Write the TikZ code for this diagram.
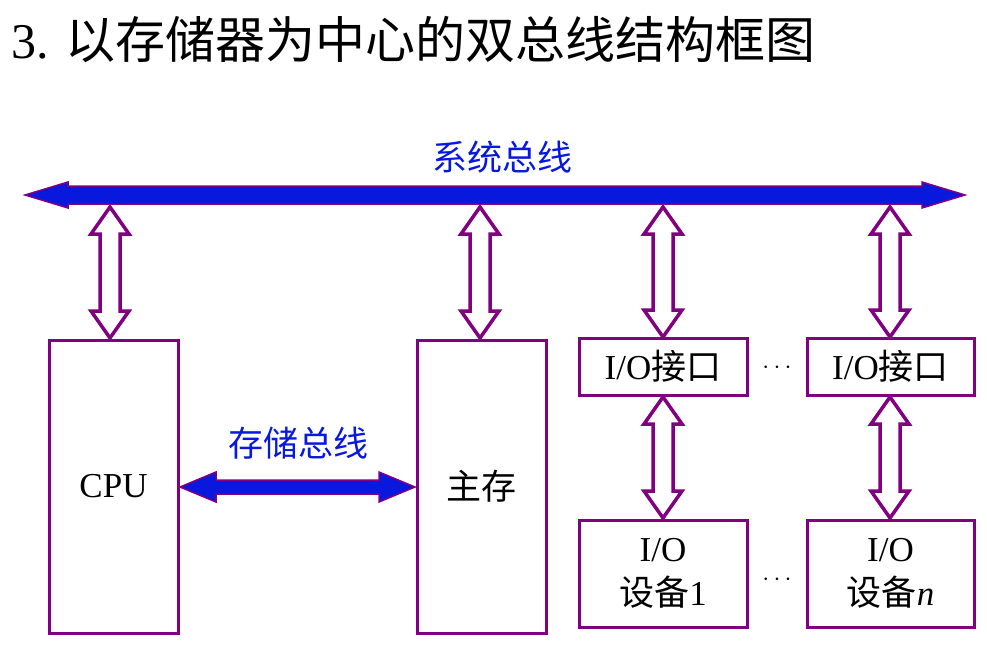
\documentclass[tikz,border=0pt]{standalone}
\usepackage{fontspec}
\setmainfont{Liberation Serif}
\newfontfamily\cjk{Noto Sans CJK SC}
\usetikzlibrary{positioning}
\definecolor{busblue}{RGB}{8,24,220}
\definecolor{edgepurple}{RGB}{128,0,128}
\newcommand{\fs}[2]{\fontsize{#1}{#2}\selectfont}
% double arrow, vertical: x, top, bottom
\newcommand{\vdarrow}[3]{\draw[updown] (#1,#2) -- ++(19,27) -- ++(-9,0) -- (#1+10,#3-27) -- ++(9,0) -- (#1,#3) -- ++(-19,-27) -- ++(9,0) -- (#1-10,#2+27) -- ++(-9,0) -- cycle;}
% double arrow, horizontal: y, left, right, head half, shaft half, head length
\newcommand{\hdarrow}[6]{\draw[bus] (#2,#1) -- ++(#6,-#4) -- ++(0,#4-#5) -- (#3-#6,#1-#5) -- ++(0,#5-#4) -- (#3,#1) -- ++(-#6,#4) -- ++(0,#5-#4) -- (#2+#6,#1+#5) -- ++(0,#4-#5) -- cycle;}
\begin{document}
\begin{tikzpicture}[x=1pt,y=-1pt,
  box/.style={draw=edgepurple,line width=3pt,fill=white,align=center,font=\fs{35}{44}},
  bus/.style={draw=edgepurple,line width=1.5pt,fill=busblue},
  updown/.style={draw=edgepurple,line width=3.5pt,fill=white,line join=miter},
  blabel/.style={text=busblue,font=\cjk\fs{35}{40}}]
\useasboundingbox (0,0) rectangle (987,645);

%Titre
\node[anchor=west,font=\fs{50}{56}] (titre) at (8,40) {3. {\cjk 以存储器为中心的双总线结构框图}};

%Bus systeme
\hdarrow{195}{25}{965}{13}{9}{43}
\node[blabel] (nomsys) at (502,157) {系统总线};

%Blocs
\node[box,minimum width=129,minimum height=293] (cpu) at (113.5,486.5) {CPU};
\node[box,minimum width=129,minimum height=293] (mem) at (481.5,486.5) {\cjk 主存};
\node[box,minimum width=168,minimum height=57] (if1) at (663,366.5) {I/O{\cjk 接口}};
\node[box,minimum width=167,minimum height=57] (ifn) at (890.5,366.5) {I/O{\cjk 接口}};
\node[box,minimum width=168,minimum height=107] (dev1) at (663,573.5) {I/O\\{\cjk 设备}1};
\node[box,minimum width=167,minimum height=107] (devn) at (890.5,573.5) {I/O\\{\cjk 设备}\textit{n}};
\node[font=\fs{40}{40}] (dots1) at (777,368) {$\cdots$};
\node[font=\fs{40}{40}] (dots2) at (777,580) {$\cdots$};

%Liaisons
\vdarrow{110}{207}{338}
\vdarrow{480}{207}{338}
\vdarrow{663}{207}{337}
\vdarrow{890}{207}{337}
\vdarrow{663}{397}{518}
\vdarrow{890}{397}{518}

%Bus memoire
\hdarrow{487}{180}{415}{15}{7}{36}
\node[blabel] (nommem) at (298,443) {存储总线};

\end{tikzpicture}
\end{document}
